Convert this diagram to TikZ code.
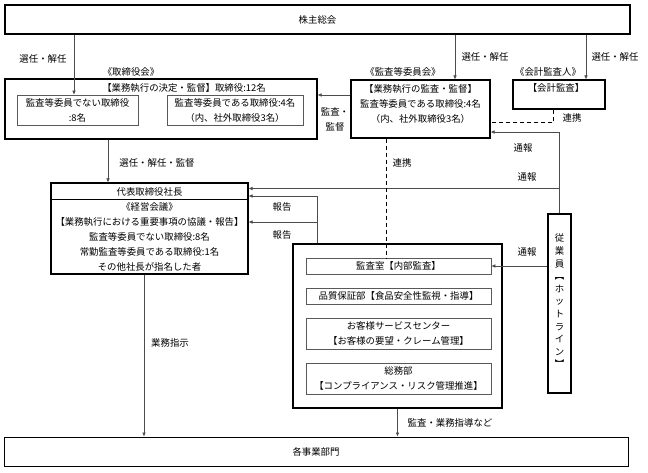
\documentclass[tikz,border=0pt]{standalone}
\usepackage{fontspec}
\setmainfont{Noto Sans CJK JP}
\usetikzlibrary{arrows.meta,calc}
\tikzset{
  bx/.style={draw=black, line width=1.1pt, inner sep=0pt, align=center},
  ibx/.style={draw=black!65, line width=0.6pt, inner sep=0pt, align=center},
  lbl/.style={inner sep=0pt, align=center},
  arr/.style={draw=black!70, line width=0.6pt, -{Latex[length=4pt,width=3.6pt]}},
  ln/.style={draw=black!70, line width=0.6pt},
  dsh/.style={draw=black, line width=1pt, dash pattern=on 4pt off 3pt},
}
\begin{document}
\begin{tikzpicture}[x=1pt,y=-1pt,font=\fontsize{9.4}{15}\selectfont]
\useasboundingbox (0,0) rectangle (648,473);
% boxes
\node[bx, minimum width=625pt, minimum height=29pt] (agm) at (317.5,19.5) {株主総会};
\node[bx, minimum width=312pt, minimum height=60pt] (board) at (161,109) {};
\node[ibx, minimum width=121pt, minimum height=30pt] (nd) at (77.5,110) {監査等委員でない取締役\\:8名};
\node[ibx, minimum width=136pt, minimum height=30pt] (ad) at (235,110) {監査等委員である取締役:4名\\（内、社外取締役3名）};
\node[bx, minimum width=139pt, minimum height=58pt] (acm) at (420.5,109) {};
\node[lbl] (acmt) at (420.5,103.5) {【業務執行の監査・監督】\\監査等委員である取締役:4名\\（内、社外取締役3名）};
\node[bx, minimum width=92pt, minimum height=29pt] (aud) at (559,94.5) {};
\node[lbl] (audt) at (556,88) {【会計監査】};
\node[bx, minimum width=197pt, minimum height=91pt] (pres) at (149.5,228.5) {};
\draw[line width=0.8pt] (pres.west |- 0,199) -- (pres.east |- 0,199);
\node[lbl] (prest) at (149.5,191.5) {代表取締役社長};
\node[lbl] (presb) at (149.5,237) {《経営会議》\\【業務執行における重要事項の協議・報告】\\監査等委員でない取締役:8名\\常勤監査等委員である取締役:1名\\その他社長が指名した者};
\node[bx, minimum width=209pt, minimum height=164pt] (grp) at (397.5,326) {};
\node[ibx, minimum width=185pt, minimum height=16pt] (ia) at (398.5,266) {監査室【内部監査】};
\node[ibx, minimum width=185pt, minimum height=16pt] (qa) at (398.5,296) {品質保証部【食品安全性監視・指導】};
\node[ibx, minimum width=185pt, minimum height=31pt] (cs) at (398.5,333.5) {お客様サービスセンター\\【お客様の要望・クレーム管理】};
\node[ibx, minimum width=185pt, minimum height=31pt] (ga) at (398.5,378.5) {総務部\\【コンプライアンス・リスク管理推進】};
\node[bx, minimum width=23pt, minimum height=179pt] (hot) at (559.5,303.5) {};
\node[lbl, font=\fontsize{9.4}{12.6}\selectfont] (hott) at (559.5,301) {従\\業\\員\\︻\\ホ\\ッ\\ト\\ラ\\イ\\ン\\︼};
\node[bx, line width=0.9pt, minimum width=624pt, minimum height=29pt] (biz) at (316,451.5) {各事業部門};
% labels
\node[lbl] (l1) at (131,72) {《取締役会》};
\node[lbl] (l2) at (403,72) {《監査等委員会》};
\node[lbl] (l3) at (548,72) {《会計監査人》};
\node[lbl] (l4) at (184,88) {【業務執行の決定・監督】取締役:12名};
\node[lbl] (s1) at (43,59) {選任・解任};
\node[lbl] (s2) at (485,57) {選任・解任};
\node[lbl] (s3) at (615,57) {選任・解任};
\node[lbl] (s4) at (157,163) {選任・解任・監督};
\node[lbl] (kk) at (335,119) {監査・\\監督};
\node[lbl] (r1) at (572,118) {連携};
\node[lbl] (r2) at (402,163) {連携};
\node[lbl] (t1) at (523,148) {通報};
\node[lbl] (t2) at (527,177) {通報};
\node[lbl] (t3) at (527,252) {通報};
\node[lbl] (h1) at (282,207) {報告};
\node[lbl] (h2) at (282,235) {報告};
\node[lbl] (g1) at (170,343) {業務指示};
\node[lbl] (g2) at (450,423) {監査・業務指導など};
% connectors
\coordinate (c1) at ([xshift=-3.5pt]nd.north);
\draw[arr] (agm.south -| c1) -- (c1);
\coordinate (c2) at ([xshift=34.5pt]acm.north);
\draw[arr] (agm.south -| c2) -- (c2);
\coordinate (c3) at ([xshift=27pt]aud.north);
\draw[arr] (agm.south -| c3) -- (c3);
\coordinate (c4) at ([yshift=14pt]acm.west);
\draw[arr] (c4) -- (c4 -| board.east);
\coordinate (c5) at ([xshift=-41.5pt]pres.north);
\draw[arr] (board.south -| c5) -- (c5);
\draw[dsh] ([xshift=-6pt]aud.south) |- ([yshift=-14pt]acm.east);
\draw[arr] (hot.north) |- ([yshift=-23pt]acm.east);
\coordinate (p1) at ([yshift=40pt]pres.east);
\draw[arr] (hot.north |- p1) -- (p1);
\draw[arr] ([xshift=-80.5pt]grp.north) |- ([yshift=32.5pt]pres.east);
\coordinate (p3) at ([yshift=6.5pt]pres.east);
\draw[arr] ([xshift=-80.5pt]grp.north |- p3) -- (p3);
\coordinate (d1) at ([xshift=-34.5pt]acm.south);
\draw[dsh] (d1) -- (d1 |- ia.north);
\draw[arr] (hot.west |- ia.east) -- (ia.east);
\draw[arr] (grp.south) -- (grp.south |- biz.north);
\coordinate (c6) at ([xshift=-5.5pt]pres.south);
\draw[arr] (c6) -- (c6 |- biz.north);
\end{tikzpicture}
\end{document}
